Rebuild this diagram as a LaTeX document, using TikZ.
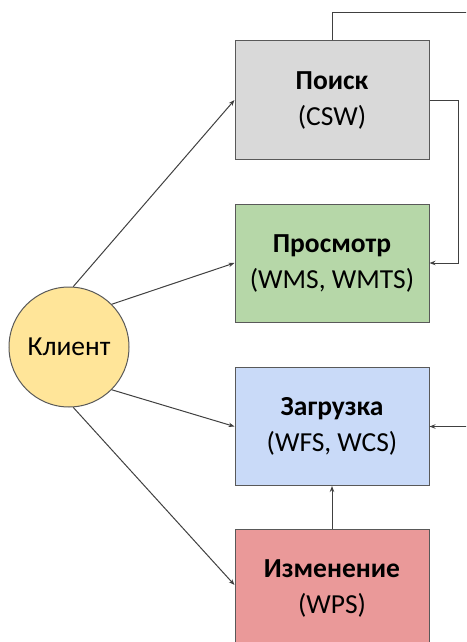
\documentclass[tikz,border=0pt]{standalone}
\usepackage{fontspec}
\setmainfont{Carlito}
\usetikzlibrary{arrows.meta}
\definecolor{edgegray}{HTML}{595959}
\definecolor{linegray}{HTML}{404040}
\definecolor{searchfill}{HTML}{D9D9D9}
\definecolor{viewfill}{HTML}{B6D7A8}
\definecolor{loadfill}{HTML}{C9DAF8}
\definecolor{editfill}{HTML}{EA9999}
\definecolor{clientfill}{HTML}{FFE599}
\tikzset{
  svcbox/.style={draw=edgegray, line width=1pt, minimum width=194pt, minimum height=118pt,
    align=center, font=\fontsize{27.5}{36}\selectfont, inner sep=0pt},
  clientnode/.style={circle, draw=edgegray, line width=1pt, fill=clientfill,
    minimum size=120pt, inner sep=0pt, font=\fontsize{27.5}{33}\selectfont},
  link/.style={draw=linegray, line width=1pt},
  arrowlink/.style={link, -{Stealth[length=6pt,width=4.5pt]}}
}
\begin{document}
\begin{tikzpicture}[x=1pt, y=-1pt]
  \useasboundingbox (0,0) rectangle (466,642);
  \begin{scope}
    \clip (0,0) rectangle (466,642);

    % service boxes
    \node[svcbox, fill=searchfill] (search) at (332,100) {\textbf{Поиск}\\(CSW)};
    \node[svcbox, fill=viewfill]   (view)   at (332,263) {\textbf{Просмотр}\\(WMS, WMTS)};
    \node[svcbox, fill=loadfill]   (load)   at (332,426.5) {\textbf{Загрузка}\\(WFS, WCS)};
    \node[svcbox, fill=editfill]   (edit)   at (332,588) {\textbf{Изменение}\\(WPS)};

    % client
    \node[clientnode] (client) at (69,347) {Клиент};

    % client to services
    \draw[arrowlink] (client.86) -- (search.west);
    \draw[arrowlink] (client.north east) -- (view.west);
    \draw[arrowlink] (client.south east) -- (load.west);
    \draw[arrowlink] (client.-86) -- ([yshift=3pt]edit.west);

    % links between services
    \coordinate (topend) at (470,13);
    \coordinate (loopx) at (458,0);
    \coordinate (loadin) at (470,426.5);
    \draw[link] (search.north) |- (topend);
    \draw[arrowlink] (search.east) -| (loopx |- view.east) -- (view.east);
    \draw[arrowlink] (loadin) -- (load.east);
    \draw[arrowlink] (edit.north) -- (load.south);
  \end{scope}
\end{tikzpicture}
\end{document}
